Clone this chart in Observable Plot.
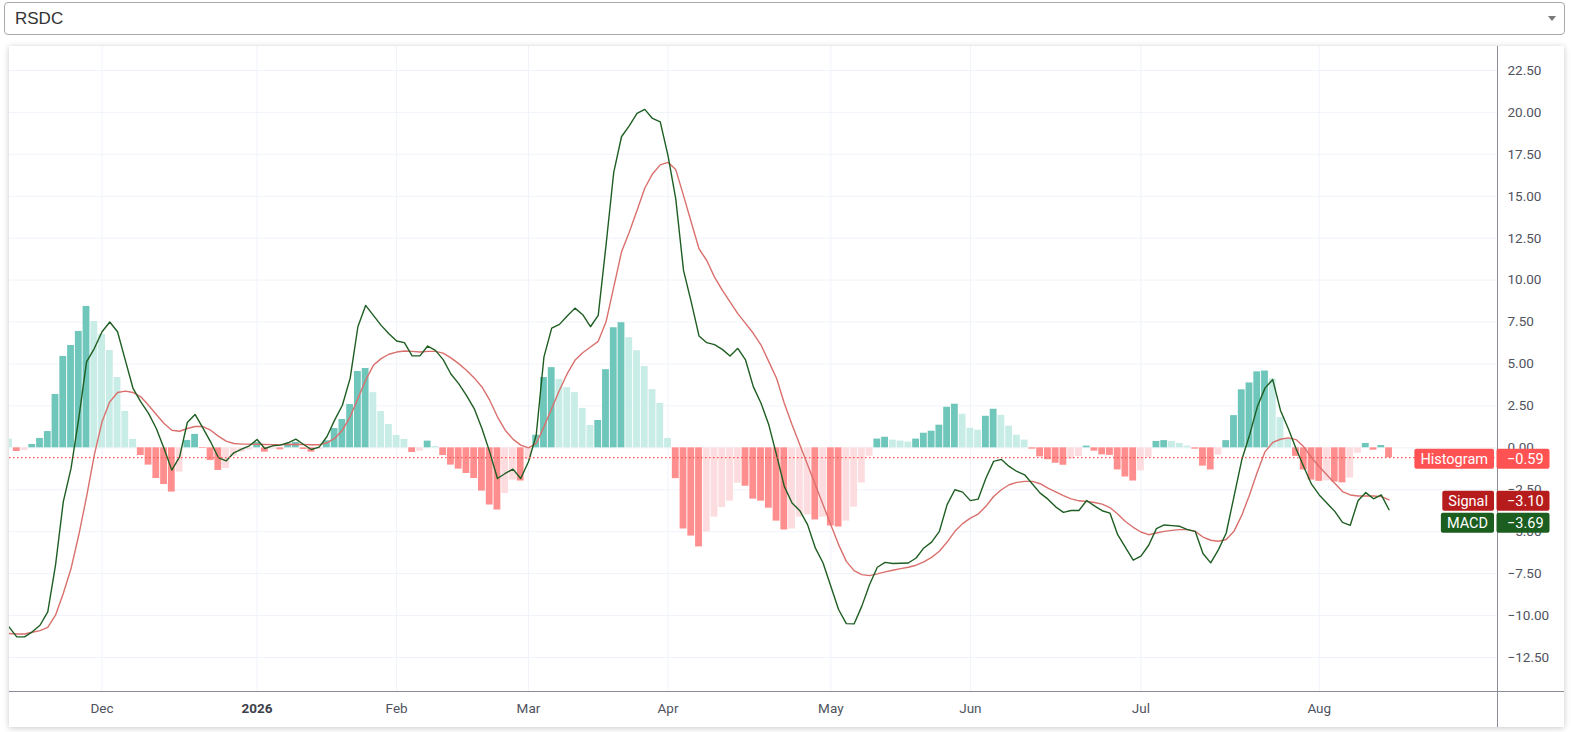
<!DOCTYPE html>
<html>
<head>
<meta charset="utf-8">
<script src="https://cdn.jsdelivr.net/npm/d3@7"></script>
<script src="https://cdn.jsdelivr.net/npm/@observablehq/plot@0.6"></script>
<style>
  html, body { margin: 0; padding: 0; background: #fff; width: 1571px; height: 732px; overflow: hidden; }
  #picker {
    position: absolute; left: 4px; top: 2px; width: 1561px; height: 33px; box-sizing: border-box;
    border: 1px solid #aaa; border-radius: 4px; background: #fff;
    font-family: "Liberation Sans", Arial, sans-serif; font-size: 17px; color: #333;
    line-height: 31px; padding-left: 10px;
  }
  #picker .arrow {
    position: absolute; right: 8px; top: 13px; width: 0; height: 0;
    border-left: 4px solid transparent; border-right: 4px solid transparent; border-top: 5px solid #777;
  }
  #card {
    position: absolute; left: 9px; top: 46px; width: 1555px; height: 681px; background: #fff;
    box-shadow: 0 1px 6px rgba(0,0,0,0.22);
  }
  #card svg { display: block; }
</style>
</head>
<body>
<div id="picker">RSDC<span class="arrow"></span></div>
<div id="card"></div>
<script>
// ---- data ----
const hist = [
  0.52, -0.22, -0.16, 0.2, 0.56, 0.97, 3.18, 5.45, 6.1, 6.94,
  8.43, 7.53, 6.76, 5.8, 4.19, 2.17, 0.5, -0.46, -1.03, -1.83,
  -2.19, -2.64, -1.45, 0.44, 0.8, -0.04, -0.76, -1.35, -1.23, -0.5,
  -0.26, -0.12, 0.32, -0.26, -0.08, -0.12, 0.22, 0.32, -0.1, -0.26,
  -0.1, 0.42, 1.15, 1.69, 2.58, 4.55, 4.73, 3.29, 2.16, 1.39,
  0.73, 0.5, -0.28, -0.2, 0.4, 0.08, -0.46, -1.03, -1.27, -1.53,
  -1.83, -2.58, -3.41, -3.71, -2.72, -1.92, -1.98, -0.73, 0.75, 4.19,
  4.78, 4.07, 3.59, 3.29, 2.34, 1.33, 1.63, 4.66, 7.16, 7.46,
  6.57, 5.79, 4.84, 3.47, 2.64, 0.56, -1.84, -4.84, -5.26, -5.91,
  -5.02, -4.13, -3.56, -3.18, -2.11, -2.29, -3.06, -3.18, -3.6, -4.37,
  -4.9, -4.84, -4.13, -4.0, -4.3, -4.13, -4.66, -4.72, -4.37, -3.54,
  -2.1, -0.5, 0.52, 0.63, 0.46, 0.4, 0.34, 0.52, 0.87, 0.99,
  1.35, 2.42, 2.6, 2.0, 1.17, 1.05, 1.88, 2.3, 1.94, 1.29,
  0.75, 0.46, -0.08, -0.54, -0.71, -0.92, -1.04, -0.67, -0.53, 0.1,
  -0.2, -0.42, -0.45, -1.32, -1.74, -1.98, -1.38, -0.57, 0.38, 0.43,
  0.38, 0.26, 0.1, -0.08, -1.09, -1.32, -0.43, 0.43, 1.92, 3.46,
  3.87, 4.53, 4.58, 4.11, 1.8, 0.55, -0.51, -1.32, -1.92, -2.0,
  -1.97, -2.04, -2.09, -1.8, -0.32, 0.26, -0.14, 0.14, -0.59
];
const macd = [
  -10.68, -11.27, -11.27, -10.97, -10.58, -9.78, -7.0, -3.22, -1.23, 1.75,
  5.13, 5.92, 6.92, 7.5, 6.92, 5.23, 3.54, 2.74, 2.05, 1.15,
  -0.04, -1.33, -0.54, 1.51, 1.99, 1.19, 0.36, -0.58, -0.78, -0.3,
  -0.08, 0.12, 0.5, -0.04, 0.12, 0.16, 0.3, 0.52, 0.2, -0.1,
  0.04, 0.66, 1.65, 2.54, 4.14, 7.22, 8.49, 7.9, 7.3, 6.8,
  6.37, 6.27, 5.48, 5.48, 6.07, 5.81, 5.26, 4.4, 3.83, 3.13,
  2.34, 1.15, -0.24, -1.83, -1.53, -1.27, -1.83, -0.83, 0.75, 5.42,
  7.14, 7.36, 7.86, 8.33, 7.94, 7.22, 7.9, 12.06, 16.43, 18.55,
  19.2, 19.94, 20.18, 19.64, 19.44, 17.42, 14.84, 10.58, 8.69, 6.67,
  6.27, 6.15, 5.87, 5.48, 5.93, 5.24, 3.65, 2.66, 1.37, -0.42,
  -2.3, -3.29, -3.75, -4.58, -5.97, -6.87, -8.25, -9.64, -10.48, -10.5,
  -9.44, -8.15, -7.12, -6.83, -6.9, -6.88, -6.87, -6.57, -5.97, -5.62,
  -4.98, -3.39, -2.5, -2.64, -3.15, -3.06, -1.81, -0.81, -0.69, -1.11,
  -1.41, -1.61, -2.16, -2.7, -3.06, -3.52, -3.85, -3.74, -3.74, -3.14,
  -3.46, -3.75, -3.89, -5.18, -5.93, -6.7, -6.46, -5.81, -4.82, -4.6,
  -4.64, -4.68, -4.88, -4.98, -6.3, -6.86, -6.07, -5.08, -2.91, -0.73,
  0.75, 2.43, 3.56, 4.07, 2.23, 1.15, -0.04, -1.13, -2.17, -2.81,
  -3.3, -3.79, -4.45, -4.62, -3.16, -2.67, -3.04, -2.81, -3.69
];
const signal = [
  -11.07, -11.1, -11.1, -11.0, -10.9, -10.7, -9.98, -8.69, -7.2, -5.2,
  -2.92, -0.44, 1.55, 2.74, 3.3, 3.38, 3.3, 3.04, 2.54, 1.99,
  1.45, 1.05, 0.99, 1.15, 1.27, 1.27, 1.05, 0.7, 0.4, 0.26,
  0.22, 0.22, 0.21, 0.2, 0.19, 0.19, 0.2, 0.21, 0.2, 0.18,
  0.18, 0.3, 0.56, 1.05, 1.85, 2.94, 4.03, 4.92, 5.32, 5.58,
  5.71, 5.77, 5.75, 5.71, 5.75, 5.75, 5.65, 5.36, 5.02, 4.62,
  4.17, 3.63, 2.84, 1.85, 1.05, 0.52, 0.16, 0.0, 0.26, 1.25,
  2.34, 3.43, 4.42, 5.22, 5.67, 6.01, 6.35, 7.5, 9.58, 11.67,
  12.86, 14.15, 15.48, 16.33, 16.87, 17.02, 16.59, 15.04, 13.45, 11.87,
  11.17, 10.18, 9.4, 8.7, 8.0, 7.42, 6.83, 6.13, 5.14, 4.15,
  2.66, 1.37, 0.18, -1.01, -2.2, -3.39, -4.58, -5.77, -6.77, -7.32,
  -7.56, -7.62, -7.52, -7.4, -7.3, -7.2, -7.12, -7.0, -6.8, -6.53,
  -6.17, -5.62, -4.98, -4.52, -4.19, -3.95, -3.49, -2.9, -2.5, -2.2,
  -2.06, -2.0, -2.0, -2.14, -2.4, -2.62, -2.85, -3.04, -3.16, -3.2,
  -3.26, -3.36, -3.56, -3.95, -4.39, -4.74, -5.02, -5.18, -5.08, -4.98,
  -4.92, -4.88, -4.88, -4.98, -5.32, -5.51, -5.57, -5.47, -4.98, -4.03,
  -2.81, -1.46, -0.24, 0.32, 0.51, 0.59, 0.49, 0.06, -0.57, -1.13,
  -1.62, -2.11, -2.61, -2.81, -2.87, -2.87, -2.87, -2.91, -3.10
];
const monthIdx = [12, 32, 50, 67, 85, 106, 124, 146, 169];
const monthLabels = ["Dec", "2026", "Feb", "Mar", "Apr", "May", "Jun", "Jul", "Aug"];
const yTicks = [-12.5, -10, -7.5, -5, -2.5, 0, 2.5, 5, 7.5, 10, 12.5, 15, 17.5, 20, 22.5];

// ---- styles ----
const C = {
  upStrong: "#6fc6bb", upWeak: "#c8ece6", downStrong: "#ff8e8e", downWeak: "#fddcdf",
  macd: "#1e5e22", signal: "#d9706d", grid: "#f0f3fa", axisText: "#50535e", axisLine: "#8a8d96"
};

const W = 1555, H = 681, MR = 67, MB = 36;

function barColor(i) {
  const h = hist[i], p = i > 0 ? hist[i - 1] : Infinity;
  if (h >= 0) return h > p ? C.upStrong : C.upWeak;
  return h < p ? C.downStrong : C.downWeak;
}

const rows = hist.map((h, i) => ({i, h, m: macd[i], s: signal[i], c: barColor(i)}));
const months = monthIdx.map((i, k) => ({i, label: monthLabels[k]}));
const last = hist.length - 1;
const fmt = d => (d < 0 ? "\u2212" : "") + Math.abs(d).toFixed(2);

const chart = Plot.plot({
  width: W, height: H,
  marginLeft: 0, marginRight: MR, marginTop: 0, marginBottom: MB,
  x: {domain: [0.0645, 191.99], axis: null},
  y: {domain: [-14.53, 23.93], axis: null},
  color: {type: "identity"},
  style: {fontFamily: "Roboto, sans-serif", background: "transparent"},
  marks: [
    Plot.ruleY(yTicks, {stroke: C.grid, strokeWidth: 1}),
    Plot.ruleX(monthIdx, {stroke: C.grid, strokeWidth: 1}),
    Plot.rect(rows, {x1: d => d.i - 0.44, x2: d => d.i + 0.44, y1: 0, y2: "h", fill: "c"}),
    Plot.line(rows, {x: "i", y: "s", stroke: C.signal, strokeWidth: 1.4}),
    Plot.line(rows, {x: "i", y: "m", stroke: C.macd, strokeWidth: 1.4}),
    Plot.ruleY([hist[last]], {stroke: "#ff5252", strokeWidth: 1.3, strokeDasharray: "1.5,2.5"}),
    Plot.axisY(yTicks, {anchor: "right", tickSize: 0, tickPadding: 10, tickFormat: fmt, label: null,
      fontSize: 13.5, color: C.axisText, textAnchor: "start"}),
    Plot.text(months.filter(d => d.label !== "2026"), {x: "i", text: "label", frameAnchor: "bottom", dy: 17,
      lineAnchor: "middle", fontSize: 13.5, fill: C.axisText}),
    Plot.text(months.filter(d => d.label === "2026"), {x: "i", text: "label", frameAnchor: "bottom", dy: 17,
      lineAnchor: "middle", fontSize: 13.5, fontWeight: "bold", fill: "#3d404a"})
  ]
});
document.getElementById("card").appendChild(chart);

// ---- axis lines and last-value labels ----
const svg = d3.select(chart);
const ys = chart.scale("y");
const frameR = W - MR, frameB = H - MB;
svg.append("line").attr("x1", frameR + 0.5).attr("x2", frameR + 0.5).attr("y1", 0).attr("y2", H)
  .attr("stroke", C.axisLine).attr("stroke-width", 1);
svg.append("line").attr("x1", 0).attr("x2", W).attr("y1", frameB + 0.5).attr("y2", frameB + 0.5)
  .attr("stroke", C.axisLine).attr("stroke-width", 1);

const labels = [
  {name: "Histogram", value: hist[last], bg: "#ff5252"},
  {name: "Signal", value: signal[last], bg: "#b71c1c"},
  {name: "MACD", value: macd[last], bg: "#1b5e20"}
].map(d => ({...d, cy: ys.apply(d.value) + 1.5}));
labels.sort((a, b) => a.cy - b.cy);
const BH = 20, GAP = 2;
let prevBottom = -Infinity;
for (const d of labels) {
  let top = d.cy - BH / 2;
  if (top < prevBottom + GAP) top = prevBottom + GAP;
  d.top = top; prevBottom = top + BH;
}
for (const d of labels) {
  const g = svg.append("g").attr("font-family", "Roboto, sans-serif").attr("font-size", 14.5);
  const nameRect = g.append("rect").attr("y", d.top).attr("height", BH).attr("rx", 2).attr("fill", d.bg);
  const nameText = g.append("text").attr("y", d.top + BH / 2).attr("dy", "0.35em").attr("fill", "#fff")
    .attr("text-anchor", "middle").text(d.name);
  const tw = nameText.node().getComputedTextLength();
  const bw = tw + 12;
  nameRect.attr("x", frameR - 3 - bw).attr("width", bw);
  nameText.attr("x", frameR - 3 - bw / 2);
  g.append("rect").attr("x", frameR - 0.5).attr("y", d.top).attr("width", 53).attr("height", BH)
    .attr("rx", 2).attr("fill", d.bg);
  g.append("text").attr("x", frameR + 10).attr("y", d.top + BH / 2).attr("dy", "0.35em").attr("fill", "#fff")
    .attr("text-anchor", "start").text(fmt(d.value));
}
</script>
</body>
</html>
